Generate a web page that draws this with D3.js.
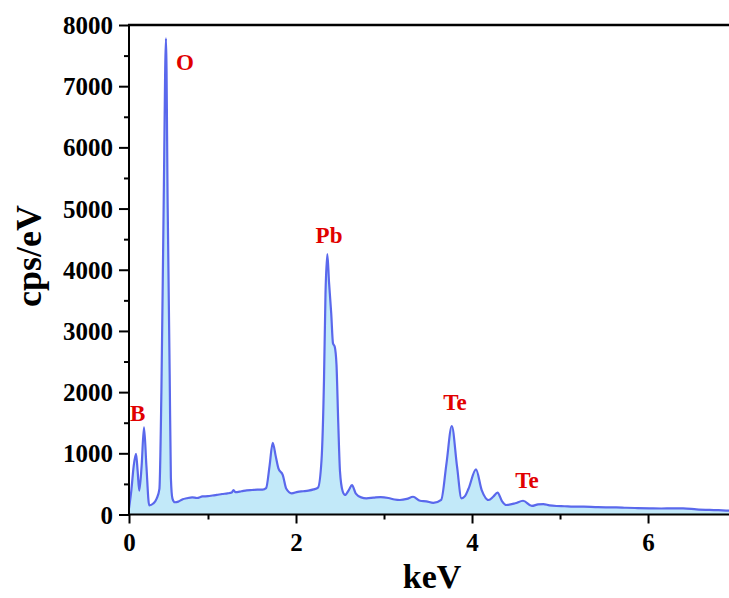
<!DOCTYPE html>
<html>
<head>
<meta charset="utf-8">
<script src="https://cdn.jsdelivr.net/npm/d3@7"></script>
<style>
  html, body { margin: 0; padding: 0; background: #ffffff; }
  svg { display: block; }
</style>
</head>
<body>
<div id="chart"></div>
<script>
// ---- data ----
const energyKeV = [0.00,0.03,0.06,0.089,0.11,0.13,0.16,0.19,0.22,0.256,0.307,0.35,0.385,0.41,0.44,0.468,0.49,0.515,0.53,0.55,0.58,0.624,0.68,0.73,0.80,0.86,0.93,1.00,1.05,1.10,1.16,1.22,1.27,1.29,1.31,1.38,1.44,1.50,1.56,1.62,1.66,1.70,1.735,1.77,1.80,1.85,1.89,1.95,2.02,2.08,2.14,2.20,2.25,2.29,2.318,2.335,2.356,2.375,2.40,2.42,2.44,2.46,2.48,2.50,2.53,2.557,2.60,2.636,2.68,2.74,2.80,2.88,2.96,3.05,3.12,3.18,3.26,3.33,3.41,3.48,3.56,3.65,3.71,3.77,3.83,3.88,3.92,3.96,4.045,4.11,4.19,4.24,4.29,4.34,4.39,4.49,4.58,4.68,4.75,4.81,4.88,4.96,5.05,5.15,5.27,5.40,5.52,5.64,5.75,5.88,6.02,6.15,6.28,6.40,6.55,6.70,6.80,6.92];
const countsCps = [100,400,800,990,700,390,800,1425,800,150,180,260,420,2000,5200,7781,5000,2300,600,260,200,210,250,265,280,270,295,300,310,320,335,345,360,400,365,380,395,400,405,405,430,800,1173,950,755,645,420,345,370,380,390,410,440,890,2200,3600,4256,3800,3290,2800,2742,2450,1500,700,380,320,400,480,340,280,265,275,285,270,245,237,255,290,225,215,190,240,837,1446,781,265,300,420,738,400,237,290,356,220,155,183,225,140,165,171,150,139,135,128,128,122,118,118,110,105,101,98,101,101,85,75,70,62];

const xTickValues = [0, 2, 4, 6];
const xMinorValues = [1, 3, 5];
const yTickValues = [0, 1000, 2000, 3000, 4000, 5000, 6000, 7000, 8000];
const yMinorValues = [500, 1500, 2500, 3500, 4500, 5500, 6500, 7500];

const peakLabels = ["B", "O", "Pb", "Te", "Te"];
const peakLabelKeV = [0.013, 0.595, 2.375, 3.807, 4.625];
const peakLabelCps = [1528, 7264, 4437, 1708, 433];
const peakLabelAnchor = ["start", "start", "middle", "middle", "middle"];

const xTitle = "keV";
const yTitle = "cps/eV";

// ---- layout ----
const W = 729, H = 598;
const mLeft = 129, mTop = 25, mBottom = 514.5, mRight = 729;

const svg = d3.select("#chart").append("svg")
  .attr("width", W).attr("height", H)
  .style("background", "#ffffff");

// x scale is slightly non-uniform in the reference (0..1 keV narrower)
const x = d3.scaleLinear().domain([0, 1, 6.92]).range([mLeft, 208, mRight]);
const y = d3.scaleLinear().domain([0, 8000]).range([mBottom, mTop]);

const data = energyKeV.map((e, i) => ({ e, c: countsCps[i] }));

svg.append("defs").append("clipPath").attr("id", "clip")
  .append("rect").attr("x", mLeft).attr("y", mTop).attr("width", mRight - mLeft).attr("height", mBottom - mTop);

const g = svg.append("g").attr("clip-path", "url(#clip)");

const area = d3.area()
  .x(d => x(d.e)).y0(y(0)).y1(d => y(d.c))
  .curve(d3.curveMonotoneX);
const line = d3.line()
  .x(d => x(d.e)).y(d => y(d.c))
  .curve(d3.curveMonotoneX);

g.append("path").datum(data).attr("d", area)
  .attr("fill", "#c2e9f9").attr("stroke", "none");
g.append("path").datum(data).attr("d", line)
  .attr("fill", "none").attr("stroke", "#5a68ec").attr("stroke-width", 2.2)
  .attr("stroke-linejoin", "round");

const fontTick = "'Liberation Serif', 'Times New Roman', serif";

// x axis
const xAxis = svg.append("g").attr("transform", `translate(0,${mBottom})`)
  .call(d3.axisBottom(x).tickValues(xTickValues).tickSize(9).tickPadding(10).tickFormat(d3.format("d")));
const xMinor = svg.append("g").attr("transform", `translate(0,${mBottom})`)
  .call(d3.axisBottom(x).tickValues(xMinorValues).tickSize(5).tickFormat(""));
// y axis
const yAxis = svg.append("g").attr("transform", `translate(${mLeft},0)`)
  .call(d3.axisLeft(y).tickValues(yTickValues).tickSize(10).tickPadding(6).tickFormat(d3.format("d")));
const yMinor = svg.append("g").attr("transform", `translate(${mLeft},0)`)
  .call(d3.axisLeft(y).tickValues(yMinorValues).tickSize(5).tickFormat(""));

[xAxis, xMinor, yAxis, yMinor].forEach(a => {
  a.select(".domain").remove();
  a.selectAll(".tick line").attr("stroke", "#000").attr("stroke-width", 2);
  a.selectAll(".tick text")
    .attr("fill", "#000")
    .style("font-family", fontTick)
    .style("font-weight", "bold")
    .style("font-size", "25px");
});
yAxis.selectAll(".tick text").attr("dy", "0.34em");

// frame lines (left, bottom, top)
svg.append("line").attr("x1", mLeft).attr("x2", mRight).attr("y1", mBottom).attr("y2", mBottom)
  .attr("stroke", "#000").attr("stroke-width", 2);
svg.append("line").attr("x1", mLeft).attr("x2", mLeft).attr("y1", mTop - 1).attr("y2", mBottom + 1)
  .attr("stroke", "#000").attr("stroke-width", 2);
svg.append("line").attr("x1", mLeft - 1).attr("x2", mRight).attr("y1", mTop).attr("y2", mTop)
  .attr("stroke", "#000").attr("stroke-width", 2.5);

// axis titles
svg.append("text")
  .attr("x", 432).attr("y", 588)
  .attr("text-anchor", "middle")
  .style("font-family", fontTick).style("font-weight", "bold").style("font-size", "34px")
  .attr("fill", "#000")
  .text(xTitle);
svg.append("text")
  .attr("transform", "translate(41,256) rotate(-90)")
  .attr("text-anchor", "middle")
  .style("font-family", fontTick).style("font-weight", "bold").style("font-size", "36px")
  .attr("fill", "#000")
  .text(yTitle);

// element labels
svg.selectAll("text.peak").data(peakLabels).enter().append("text")
  .attr("class", "peak")
  .attr("x", (d, i) => x(peakLabelKeV[i]))
  .attr("y", (d, i) => y(peakLabelCps[i]))
  .attr("text-anchor", (d, i) => peakLabelAnchor[i])
  .style("font-family", fontTick).style("font-weight", "bold").style("font-size", "23px")
  .attr("fill", "#e10000")
  .text(d => d);
</script>
</body>
</html>
